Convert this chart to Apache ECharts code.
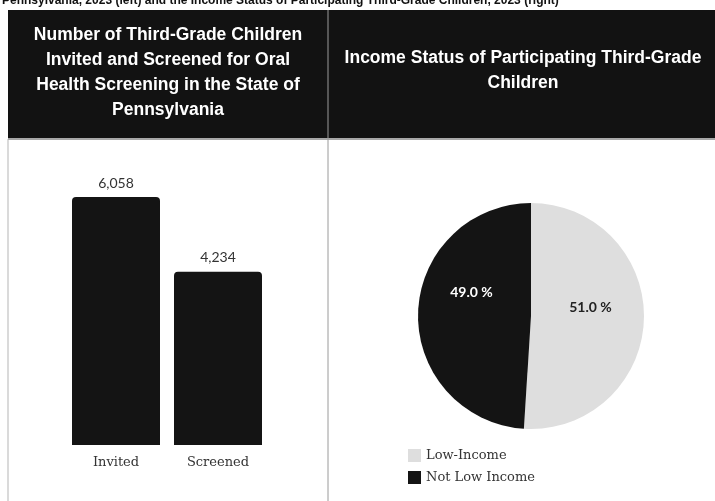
<!DOCTYPE html>
<html>
<head>
<meta charset="utf-8">
<script src="https://cdn.jsdelivr.net/npm/echarts@6/dist/echarts.min.js"></script>
<style>
  html, body { margin: 0; padding: 0; background: #fff; }
  #chart { width: 715px; height: 501px; }
</style>
</head>
<body>
<div id="chart"></div>
<script>
  // data
  var barCategories = ['Invited', 'Screened'];
  var barValues = [6058, 4234];
  var incomeLabels = ['Low-Income', 'Not Low Income'];
  var incomeShares = [51.0, 49.0];
  var incomeColors = ['#dedede', '#141414'];
  var incomeTextColors = ['#222', '#fff'];

  var leftTitle = ['Number of Third-Grade Children', 'Invited and Screened for Oral', 'Health Screening in the State of', 'Pennsylvania'];
  var rightTitle = ['Income Status of Participating Third-Grade', 'Children'];
  var caption = 'Pennsylvania, 2023 (left) and the Income Status of Participating Third-Grade Children, 2023 (right)';

  var myChart = echarts.init(document.getElementById('chart'));

  var headFont = 'bold 17.5px "Liberation Sans", Arial, sans-serif';
  var graphics = [
    { type: 'rect', shape: { x: 8, y: 10, width: 707, height: 128 }, style: { fill: '#121212' }, z: 1 },
    { type: 'line', shape: { x1: 8, y1: 139, x2: 715, y2: 139 }, style: { stroke: '#8a8a8a', lineWidth: 1.5 }, z: 2 },
    { type: 'line', shape: { x1: 8, y1: 139, x2: 8, y2: 501 }, style: { stroke: '#b5b5b5', lineWidth: 1 }, z: 2 },
    { type: 'line', shape: { x1: 328, y1: 10, x2: 328, y2: 501 }, style: { stroke: '#9a9a9a', lineWidth: 1 }, z: 3 },
    { type: 'text', x: 2, y: 1, style: { text: caption, font: 'bold 12px "Liberation Sans", Arial, sans-serif', fill: '#111', textVerticalAlign: 'middle' }, z: 0 }
  ];
  leftTitle.forEach(function (t, i) {
    graphics.push({ type: 'text', x: 168, y: 35 + i * 25, z: 4,
      style: { text: t, font: headFont, fill: '#fff', textAlign: 'center', textVerticalAlign: 'middle' } });
  });
  rightTitle.forEach(function (t, i) {
    graphics.push({ type: 'text', x: 523, y: 58 + i * 25, z: 4,
      style: { text: t, font: headFont, fill: '#fff', textAlign: 'center', textVerticalAlign: 'middle' } });
  });

  myChart.setOption({
    backgroundColor: '#fff',
    animation: false,
    graphic: graphics,
    grid: { left: 65, right: 715 - 269, top: 197, bottom: 56, containLabel: false },
    xAxis: {
      type: 'category',
      data: barCategories,
      axisLine: { show: false },
      axisTick: { show: false },
      axisLabel: { margin: 11, color: '#333', fontSize: 13, fontFamily: '"DejaVu Serif", serif' }
    },
    yAxis: {
      type: 'value',
      min: 0,
      max: 6058,
      show: false
    },
    legend: {
      orient: 'vertical',
      left: 403,
      top: 444,
      icon: 'rect',
      itemWidth: 13,
      itemHeight: 13,
      itemGap: 9,
      data: incomeLabels,
      textStyle: { color: '#333', fontSize: 13, fontFamily: '"DejaVu Serif", serif' }
    },
    series: [{
      type: 'bar',
      data: barValues,
      barWidth: 88,
      itemStyle: { color: '#141414', borderRadius: [4, 4, 0, 0] },
      label: {
        show: true,
        position: 'top',
        distance: 7,
        color: '#333',
        fontSize: 14,
        fontFamily: 'Lato, sans-serif',
        formatter: function (p) { return p.value.toLocaleString('en-US'); }
      }
    }, {
      type: 'pie',
      center: [531, 316],
      radius: 113,
      startAngle: 90,
      clockwise: true,
      data: incomeLabels.map(function (name, i) {
        return {
          name: name,
          value: incomeShares[i],
          itemStyle: { color: incomeColors[i] },
          label: { color: incomeTextColors[i] }
        };
      }),
      label: {
        show: true,
        position: 'inside',
        fontSize: 14,
        fontWeight: 'bold',
        fontFamily: 'Lato, sans-serif',
        // an empty line under the value lifts the text a little above the slice middle
        formatter: function (p) {
          return '{v|' + p.value.toFixed(1) + ' %}\n{' + (p.dataIndex === 0 ? 'a' : 'b') + '|}';
        },
        rich: {
          v: { fontSize: 14, fontWeight: 'bold', fontFamily: 'Lato, sans-serif', lineHeight: 18 },
          a: { lineHeight: 20, height: 20 },
          b: { lineHeight: 44, height: 44 }
        }
      },
      labelLine: { show: false },
      emphasis: { disabled: true }
    }]
  });
</script>
</body>
</html>
